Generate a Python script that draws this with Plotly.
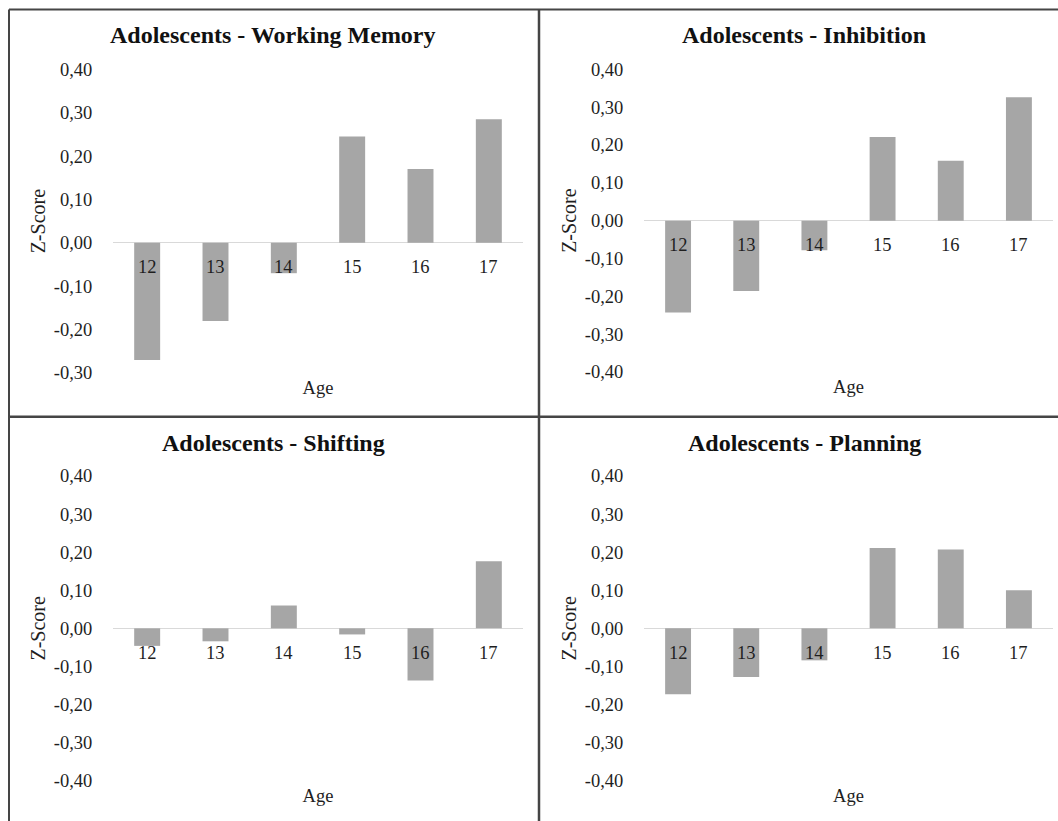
import plotly.graph_objects as go

# ---------------- data ----------------
ages = ["12", "13", "14", "15", "16", "17"]
working_memory = [-0.27, -0.18, -0.07, 0.245, 0.17, 0.285]
inhibition = [-0.243, -0.186, -0.078, 0.221, 0.158, 0.326]
shifting = [-0.046, -0.034, 0.060, -0.016, -0.137, 0.176]
planning = [-0.173, -0.128, -0.084, 0.211, 0.207, 0.100]

titles = ["Adolescents - Working Memory", "Adolescents - Inhibition",
          "Adolescents - Shifting", "Adolescents - Planning"]

tickvals_wm = [-0.3, -0.2, -0.1, 0.0, 0.1, 0.2, 0.3, 0.4]
ticktext_wm = ["-0,30", "-0,20", "-0,10", "0,00", "0,10", "0,20", "0,30", "0,40"]
tickvals_full = [-0.4, -0.3, -0.2, -0.1, 0.0, 0.1, 0.2, 0.3, 0.4]
ticktext_full = ["-0,40", "-0,30", "-0,20", "-0,10", "0,00", "0,10", "0,20", "0,30", "0,40"]

x_title = "Age"
y_title = "Z-Score"

# ---------------- layout helpers ----------------
W, H = 1058, 821
FONT = "Liberation Serif, Times New Roman, serif"
TXT = "#1e1e1e"
BAR = "#a6a6a6"
LINE = "#454545"


def fx(p):
    return p / W


def fy(p):
    return 1 - p / H


panels = [
    dict(values=working_memory, title=titles[0], tv=tickvals_wm, tt=ticktext_wm,
         rng=[-0.3, 0.4], x0=113, x1=523, top=69.3, bot=373, tx=273, ty=35),
    dict(values=inhibition, title=titles[1], tv=tickvals_full, tt=ticktext_full,
         rng=[-0.4, 0.4], x0=644, x1=1053, top=69.3, bot=372, tx=804, ty=35),
    dict(values=shifting, title=titles[2], tv=tickvals_full, tt=ticktext_full,
         rng=[-0.4, 0.4], x0=113, x1=523, top=476, bot=780.7, tx=273, ty=443),
    dict(values=planning, title=titles[3], tv=tickvals_full, tt=ticktext_full,
         rng=[-0.4, 0.4], x0=644, x1=1053, top=476, bot=780.7, tx=804, ty=443),
]

fig = go.Figure()
annotations = []
layout_axes = {}

for i, p in enumerate(panels, start=1):
    sfx = "" if i == 1 else str(i)
    fig.add_trace(go.Bar(
        x=ages, y=p["values"], xaxis="x" + sfx, yaxis="y" + sfx,
        marker=dict(color=BAR, line=dict(width=0)), width=0.38,
        showlegend=False, hoverinfo="x+y",
    ))
    layout_axes["xaxis" + sfx] = dict(
        domain=[fx(p["x0"]), fx(p["x1"])], anchor="y" + sfx,
        type="category", range=[-0.5, len(ages) - 0.5], automargin=False,
        showticklabels=False, ticks="", showline=False,
        showgrid=False, zeroline=False, fixedrange=True,
        title=dict(text=x_title, standoff=8, font=dict(family=FONT, size=18.5, color=TXT)),
    )
    layout_axes["yaxis" + sfx] = dict(
        domain=[fy(p["bot"]), fy(p["top"])], anchor="x" + sfx,
        range=p["rng"], tickvals=p["tv"], ticktext=p["tt"], automargin=False,
        ticks="outside", ticklen=16, tickcolor="rgba(0,0,0,0)",
        showline=False, showgrid=False,
        zeroline=True, zerolinecolor="#d9d9d9", zerolinewidth=1.3,
        tickfont=dict(family=FONT, size=18.5, color=TXT), fixedrange=True,
        title=dict(text=y_title, standoff=2, font=dict(family=FONT, size=20, color=TXT)),
    )
    # category labels sit next to the zero line, as in the original
    for k, a in enumerate(ages):
        annotations.append(dict(
            x=k, y=0, xref="x" + sfx, yref="y" + sfx, text=a, showarrow=False,
            yanchor="middle", yshift=-24.5,
            font=dict(family=FONT, size=18.5, color=TXT),
        ))
    annotations.append(dict(
        x=fx(p["tx"]), y=fy(p["ty"]), xref="paper", yref="paper",
        text="<b>" + p["title"] + "</b>", showarrow=False,
        xanchor="center", yanchor="middle",
        font=dict(family=FONT, size=24, color="#111111"),
    ))

shapes = [
    dict(type="line", xref="paper", yref="paper", x0=fx(9), x1=1, y0=fy(9.5), y1=fy(9.5),
         line=dict(color=LINE, width=2)),
    dict(type="line", xref="paper", yref="paper", x0=fx(9), x1=fx(9), y0=fy(9.5), y1=0,
         line=dict(color=LINE, width=2)),
    dict(type="line", xref="paper", yref="paper", x0=fx(539), x1=fx(539), y0=fy(9.5), y1=0,
         line=dict(color=LINE, width=2.5)),
    dict(type="line", xref="paper", yref="paper", x0=fx(9), x1=1, y0=fy(416.7), y1=fy(416.7),
         line=dict(color=LINE, width=2.5)),
]

fig.update_layout(
    width=W, height=H, autosize=False,
    margin=dict(l=0, r=0, t=0, b=0, pad=0, autoexpand=False),
    paper_bgcolor="white", plot_bgcolor="white",
    font=dict(family=FONT, size=18.5, color=TXT),
    annotations=annotations, shapes=shapes, showlegend=False,
    **layout_axes,
)

fig.write_html("out.html", config={"displayModeBar": False},
               post_script="document.body.style.margin='0';")
